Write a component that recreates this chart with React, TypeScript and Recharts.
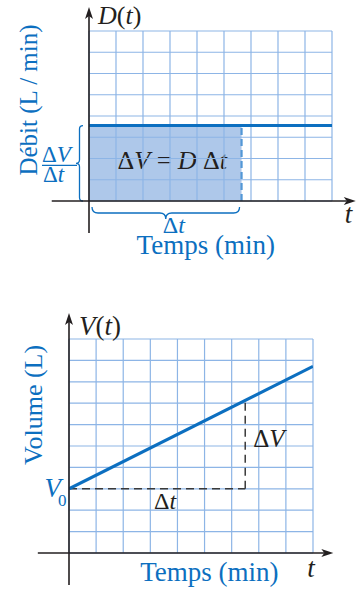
import {
  ComposedChart,
  Line,
  ReferenceArea,
  ReferenceLine,
  XAxis,
  YAxis,
} from "recharts";
import type { ReactNode } from "react";

const SERIF = '"Liberation Serif", "DejaVu Serif", serif';
const INK = "#231f20";
const BLUE = "#0c6fc0";
const GRID = "#8db5e6";

// grid ticks (one cell per unit)
const timeTicks = [0, 1, 2, 3, 4, 5, 6, 7, 8, 9];
const rateTicks = [0, 1, 2, 3, 4, 5, 6, 7, 8];
const volumeTicks = [0, 1, 2, 3, 4, 5, 6, 7, 8, 9, 10];

// constant flow rate D(t)
const rateData = [
  { t: 0, d: 3.55 },
  { t: 9, d: 3.55 },
];
const rateInterval = [0, 5.65];

// linear volume V(t)
const volumeData = [
  { t: 0, v: 3 },
  { t: 9, v: 8.72 },
];
const volumeInterval = [0, 6.5];

// how far the black axes run past the grid (data units)
const rateAxisX = [-1.38, 9.88];
const rateAxisY = [-1.5, 9.13];
const volumeAxisX = [-1.15, 9.75];
const volumeAxisY = [-1.5, 11.22];

const volumeAt = (t: number) => {
  const [a, b] = volumeData;
  return a.v + ((b.v - a.v) * (t - a.t)) / (b.t - a.t);
};

type Seg = { x1: number; y1: number; x2: number; y2: number };

function Arrow({ x1, y1, x2, y2, children }: Seg & { children?: ReactNode }) {
  const len = Math.hypot(x2 - x1, y2 - y1);
  const ux = (x2 - x1) / len;
  const uy = (y2 - y1) / len;
  const head = 12;
  const half = 4;
  const bx = x2 - ux * head;
  const by = y2 - uy * head;
  const nx = x2 - ux * (head - 3);
  const ny = y2 - uy * (head - 3);
  return (
    <g>
      <line x1={x1} y1={y1} x2={nx} y2={ny} stroke={INK} strokeWidth={1.6} />
      <path
        d={`M${x2},${y2} L${bx - uy * half},${by + ux * half} L${nx},${ny} L${bx + uy * half},${by - ux * half} Z`}
        fill={INK}
      />
      {children}
    </g>
  );
}

function Txt({
  x,
  y,
  size,
  color = INK,
  anchor = "start",
  rotate,
  children,
}: {
  x: number;
  y: number;
  size: number;
  color?: string;
  anchor?: "start" | "middle" | "end";
  rotate?: number;
  children: ReactNode;
}) {
  return (
    <text
      x={x}
      y={y}
      fontFamily={SERIF}
      fontSize={size}
      fill={color}
      textAnchor={anchor}
      transform={rotate ? `rotate(${rotate} ${x} ${y})` : undefined}
    >
      {children}
    </text>
  );
}

const It = ({ children }: { children: ReactNode }) => (
  <tspan fontStyle="italic">{children}</tspan>
);

// square grid drawn through the chart scales, one line per tick
function gridLines(xTicks: number[], yTicks: number[], key: string) {
  const xMax = xTicks[xTicks.length - 1];
  const yMax = yTicks[yTicks.length - 1];
  return [
    ...yTicks.map((y) => (
      <ReferenceLine
        key={`${key}-h${y}`}
        segment={[
          { x: xTicks[0], y },
          { x: xMax, y },
        ]}
        stroke={GRID}
        strokeWidth={1.2}
        ifOverflow="visible"
      />
    )),
    ...xTicks.map((x) => (
      <ReferenceLine
        key={`${key}-v${x}`}
        segment={[
          { x, y: yTicks[0] },
          { x, y: yMax },
        ]}
        stroke={GRID}
        strokeWidth={1.2}
        ifOverflow="visible"
      />
    )),
  ];
}

// curly brace under a horizontal segment
function BraceBelow({ x1, x2, y1 }: Seg) {
  const xa = Math.min(x1, x2) + 3;
  const xb = Math.max(x1, x2) - 2;
  const y = y1 + 6;
  const d = 12;
  const r = d / 2;
  const m = (xa + xb) / 2;
  return (
    <g>
      <path
        d={`M${xa},${y} Q${xa},${y + r} ${xa + r},${y + r} L${m - r},${y + r} Q${m},${y + r} ${m},${y + d} Q${m},${y + r} ${m + r},${y + r} L${xb - r},${y + r} Q${xb},${y + r} ${xb},${y}`}
        fill="none"
        stroke={BLUE}
        strokeWidth={1.3}
      />
      <Txt x={m + 8} y={y + 26} size={24} color={BLUE} anchor="middle">
        Δ<It>t</It>
      </Txt>
    </g>
  );
}

// curly brace left of a vertical segment
function BraceLeft({ x1, y1, y2 }: Seg) {
  const ya = Math.min(y1, y2);
  const yb = Math.max(y1, y2);
  const x = x1 - 6;
  const d = 7;
  const r = d / 2;
  const m = (ya + yb) / 2;
  return (
    <g>
      <path
        d={`M${x},${ya} Q${x - r},${ya} ${x - r},${ya + r} L${x - r},${m - r} Q${x - r},${m} ${x - d},${m} Q${x - r},${m} ${x - r},${m + r} L${x - r},${yb - r} Q${x - r},${yb} ${x},${yb}`}
        fill="none"
        stroke={BLUE}
        strokeWidth={1.3}
      />
      <Txt x={x - 41} y={m - 1} size={23} color={BLUE}>
        Δ<It>V</It>
      </Txt>
      <line x1={x - 41} y1={m + 2} x2={x - 6} y2={m + 2} stroke={BLUE} strokeWidth={1.3} />
      <Txt x={x - 40} y={m + 19} size={23} color={BLUE}>
        Δ<It>t</It>
      </Txt>
    </g>
  );
}

function RateChart() {
  return (
    <ComposedChart
      width={359}
      height={300}
      data={rateData}
      margin={{ top: 31, left: 89, right: 27, bottom: 99 }}
    >
      <XAxis
        type="number"
        dataKey="t"
        domain={[0, 9]}
        ticks={timeTicks}
        height={0}
        tick={false}
        tickLine={false}
        axisLine={false}
        allowDataOverflow
      />
      <YAxis
        type="number"
        domain={[0, 8]}
        ticks={rateTicks}
        width={0}
        tick={false}
        tickLine={false}
        axisLine={false}
        allowDataOverflow
      />
      {gridLines(timeTicks, rateTicks, "rate")}
      <ReferenceArea
        x1={rateInterval[0]}
        x2={rateInterval[1]}
        y1={0}
        y2={rateData[0].d}
        fill="#3e7bcc"
        fillOpacity={0.42}
        stroke="none"
        label={(p: any) => {
          const vb = p.viewBox;
          return (
            <Txt x={vb.x + vb.width / 2 + 7} y={vb.y + 43} size={26} anchor="middle">
              Δ<It>V</It> = <It>D</It> Δ<It>t</It>
            </Txt>
          );
        }}
      />
      <ReferenceLine
        segment={[
          { x: rateInterval[1], y: 0 },
          { x: rateInterval[1], y: rateData[0].d },
        ]}
        stroke="#5297d6"
        strokeWidth={2.2}
        strokeDasharray="7 4"
        ifOverflow="visible"
      />
      <Line
        dataKey="d"
        type="linear"
        stroke={BLUE}
        strokeWidth={3}
        dot={false}
        isAnimationActive={false}
      />
      <ReferenceLine
        segment={[
          { x: rateInterval[0], y: 0 },
          { x: rateInterval[1], y: 0 },
        ]}
        ifOverflow="visible"
        shape={(p: any) => <BraceBelow {...p} />}
      />
      <ReferenceLine
        segment={[
          { x: 0, y: 0 },
          { x: 0, y: rateData[0].d },
        ]}
        ifOverflow="visible"
        shape={(p: any) => <BraceLeft {...p} />}
      />
      <ReferenceLine
        segment={[
          { x: rateAxisX[0], y: 0 },
          { x: rateAxisX[1], y: 0 },
        ]}
        ifOverflow="visible"
        shape={(p: any) => (
          <Arrow {...p}>
            <Txt x={p.x2 - 11} y={p.y2 + 22} size={27}>
              <It>t</It>
            </Txt>
            <Txt x={p.x2 - 150} y={p.y2 + 53} size={27} color={BLUE} anchor="middle">
              Temps (min)
            </Txt>
          </Arrow>
        )}
      />
      <ReferenceLine
        segment={[
          { x: 0, y: rateAxisY[0] },
          { x: 0, y: rateAxisY[1] },
        ]}
        ifOverflow="visible"
        shape={(p: any) => (
          <Arrow {...p}>
            <Txt x={p.x2 + 9} y={p.y2 + 17} size={26}>
              <It>D</It>(<It>t</It>)
            </Txt>
            <Txt x={p.x2 - 52} y={p.y2 + 93} size={25} color={BLUE} anchor="middle" rotate={-90}>
              Débit (L / min)
            </Txt>
          </Arrow>
        )}
      />
    </ComposedChart>
  );
}

function VolumeChart() {
  const stepEnd = volumeAt(volumeInterval[1]);
  return (
    <ComposedChart
      width={359}
      height={291}
      data={volumeData}
      margin={{ top: 39, left: 69, right: 46, bottom: 38 }}
    >
      <XAxis
        type="number"
        dataKey="t"
        domain={[0, 9]}
        ticks={timeTicks}
        height={0}
        tick={false}
        tickLine={false}
        axisLine={false}
        allowDataOverflow
      />
      <YAxis
        type="number"
        domain={[0, 10]}
        ticks={volumeTicks}
        width={0}
        tick={false}
        tickLine={false}
        axisLine={false}
        allowDataOverflow
      />
      {gridLines(timeTicks, volumeTicks, "vol")}
      <ReferenceLine
        segment={[
          { x: volumeInterval[0], y: volumeData[0].v },
          { x: volumeInterval[1], y: volumeData[0].v },
        ]}
        ifOverflow="visible"
        shape={(p: any) => (
          <g>
            <line x1={p.x1} y1={p.y1} x2={p.x2} y2={p.y2} stroke="#3a3a3a" strokeWidth={1.5} strokeDasharray="8 5" />
            <Txt x={(p.x1 + p.x2) / 2 + 8} y={p.y1 + 20} size={24} anchor="middle">
              Δ<It>t</It>
            </Txt>
            <Txt x={p.x1 - 8} y={p.y1 + 8} size={27} color={BLUE} anchor="end">
              <It>V</It>
            </Txt>
            <Txt x={p.x1 - 11} y={p.y1 + 17} size={17} color={BLUE}>
              0
            </Txt>
          </g>
        )}
      />
      <ReferenceLine
        segment={[
          { x: volumeInterval[1], y: volumeData[0].v },
          { x: volumeInterval[1], y: stepEnd },
        ]}
        ifOverflow="visible"
        shape={(p: any) => (
          <g>
            <line x1={p.x1} y1={p.y1} x2={p.x2} y2={p.y2} stroke="#3a3a3a" strokeWidth={1.5} strokeDasharray="8 5" />
            <Txt x={p.x1 + 8} y={p.y1 - 42} size={25}>
              Δ<It>V</It>
            </Txt>
          </g>
        )}
      />
      <Line
        dataKey="v"
        type="linear"
        stroke={BLUE}
        strokeWidth={3}
        dot={false}
        isAnimationActive={false}
      />
      <ReferenceLine
        segment={[
          { x: volumeAxisX[0], y: 0 },
          { x: volumeAxisX[1], y: 0 },
        ]}
        ifOverflow="visible"
        shape={(p: any) => (
          <Arrow {...p}>
            <Txt x={p.x2 - 26} y={p.y2 + 24} size={27}>
              <It>t</It>
            </Txt>
            <Txt x={p.x2 - 124} y={p.y2 + 28} size={27} color={BLUE} anchor="middle">
              Temps (min)
            </Txt>
          </Arrow>
        )}
      />
      <ReferenceLine
        segment={[
          { x: 0, y: volumeAxisY[0] },
          { x: 0, y: volumeAxisY[1] },
        ]}
        ifOverflow="visible"
        shape={(p: any) => (
          <Arrow {...p}>
            <Txt x={p.x2 + 10} y={p.y2 + 22} size={27}>
              <It>V</It>(<It>t</It>)
            </Txt>
            <Txt x={p.x2 - 27} y={p.y2 + 92} size={26} color={BLUE} anchor="middle" rotate={-90}>
              Volume (L)
            </Txt>
          </Arrow>
        )}
      />
    </ComposedChart>
  );
}

export default function App() {
  return (
    <div
      style={{
        position: "absolute",
        left: 0,
        top: 0,
        width: 359,
        height: 591,
        background: "#fff",
      }}
    >
      <RateChart />
      <VolumeChart />
    </div>
  );
}
